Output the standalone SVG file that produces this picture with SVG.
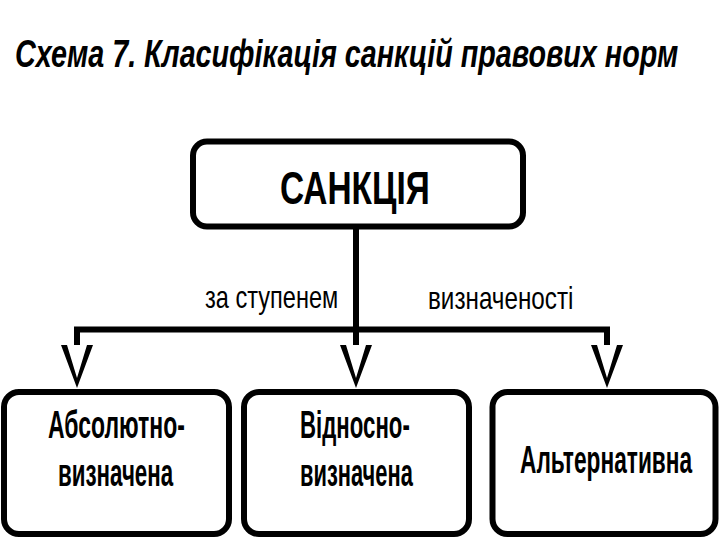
<svg xmlns="http://www.w3.org/2000/svg" width="720" height="540" viewBox="0 0 720 540">
<style>
.box{fill:#fff;stroke:#000;stroke-width:6}
.t{font-family:"Liberation Sans",Arial,sans-serif;fill:#000}
.title{font-size:38px;font-style:italic;font-weight:bold}
.main{font-size:47px;font-weight:bold}
.lab{font-size:31px}
.node{font-size:38px;font-weight:bold}
.conn{stroke:#000;stroke-width:6;fill:none}
</style>
<defs>
<marker id="vhead" markerUnits="userSpaceOnUse" orient="auto" refX="0" refY="0" markerWidth="50" markerHeight="40" viewBox="0 -20 50 40" overflow="visible">
<path d="M0,-16 L43,0 L0,16 L0,10 L33,0 L0,-10 Z" fill="#000"/>
</marker>
</defs>
<rect width="720" height="540" fill="#fff"/>
<text class="t title" transform="matrix(0.71,0,0,1,15,67)" x="0" y="0" textLength="934" lengthAdjust="spacingAndGlyphs">Схема 7. Класифікація санкцій правових норм</text>
<g id="connectors">
<line class="conn" x1="356" y1="229" x2="356" y2="345" marker-end="url(#vhead)"/>
<line class="conn" x1="74" y1="329.5" x2="610" y2="329.5"/>
<line class="conn" x1="77" y1="327" x2="77" y2="345" marker-end="url(#vhead)"/>
<line class="conn" x1="607" y1="327" x2="607" y2="345" marker-end="url(#vhead)"/>
<text class="t lab" transform="matrix(0.77,0,0,1,205,308)" x="0" y="0" textLength="173" lengthAdjust="spacingAndGlyphs">за ступенем</text>
<text class="t lab" transform="matrix(0.79,0,0,1,428,309)" x="0" y="0" textLength="184" lengthAdjust="spacingAndGlyphs">визначеності</text>
</g>
<g id="sanktsiia">
<rect class="box" x="193" y="141.5" width="330" height="85" rx="14"/>
<text class="t main" transform="matrix(0.69,0,0,1,280,204)" x="0" y="0" textLength="217" lengthAdjust="spacingAndGlyphs">САНКЦІЯ</text>
</g>
<g id="absoliutno">
<rect class="box" x="4" y="392" width="225" height="142" rx="15"/>
<text class="t node" transform="matrix(0.6,0,0,1,48,438)" x="0" y="0" textLength="228" lengthAdjust="spacingAndGlyphs">Абсолютно-</text>
<text class="t node" transform="matrix(0.6,0,0,1,58,486)" x="0" y="0" textLength="192" lengthAdjust="spacingAndGlyphs">визначена</text>
</g>
<g id="vidnosno">
<rect class="box" x="244" y="392" width="225" height="142" rx="15"/>
<text class="t node" transform="matrix(0.6,0,0,1,300,438)" x="0" y="0" textLength="183" lengthAdjust="spacingAndGlyphs">Відносно-</text>
<text class="t node" transform="matrix(0.6,0,0,1,300,486)" x="0" y="0" textLength="188" lengthAdjust="spacingAndGlyphs">визначена</text>
</g>
<g id="alternatyvna">
<rect class="box" x="492.5" y="392" width="223" height="142" rx="15"/>
<text class="t node" transform="matrix(0.6,0,0,1,520,473)" x="0" y="0" textLength="287" lengthAdjust="spacingAndGlyphs">Альтернативна</text>
</g>
</svg>
